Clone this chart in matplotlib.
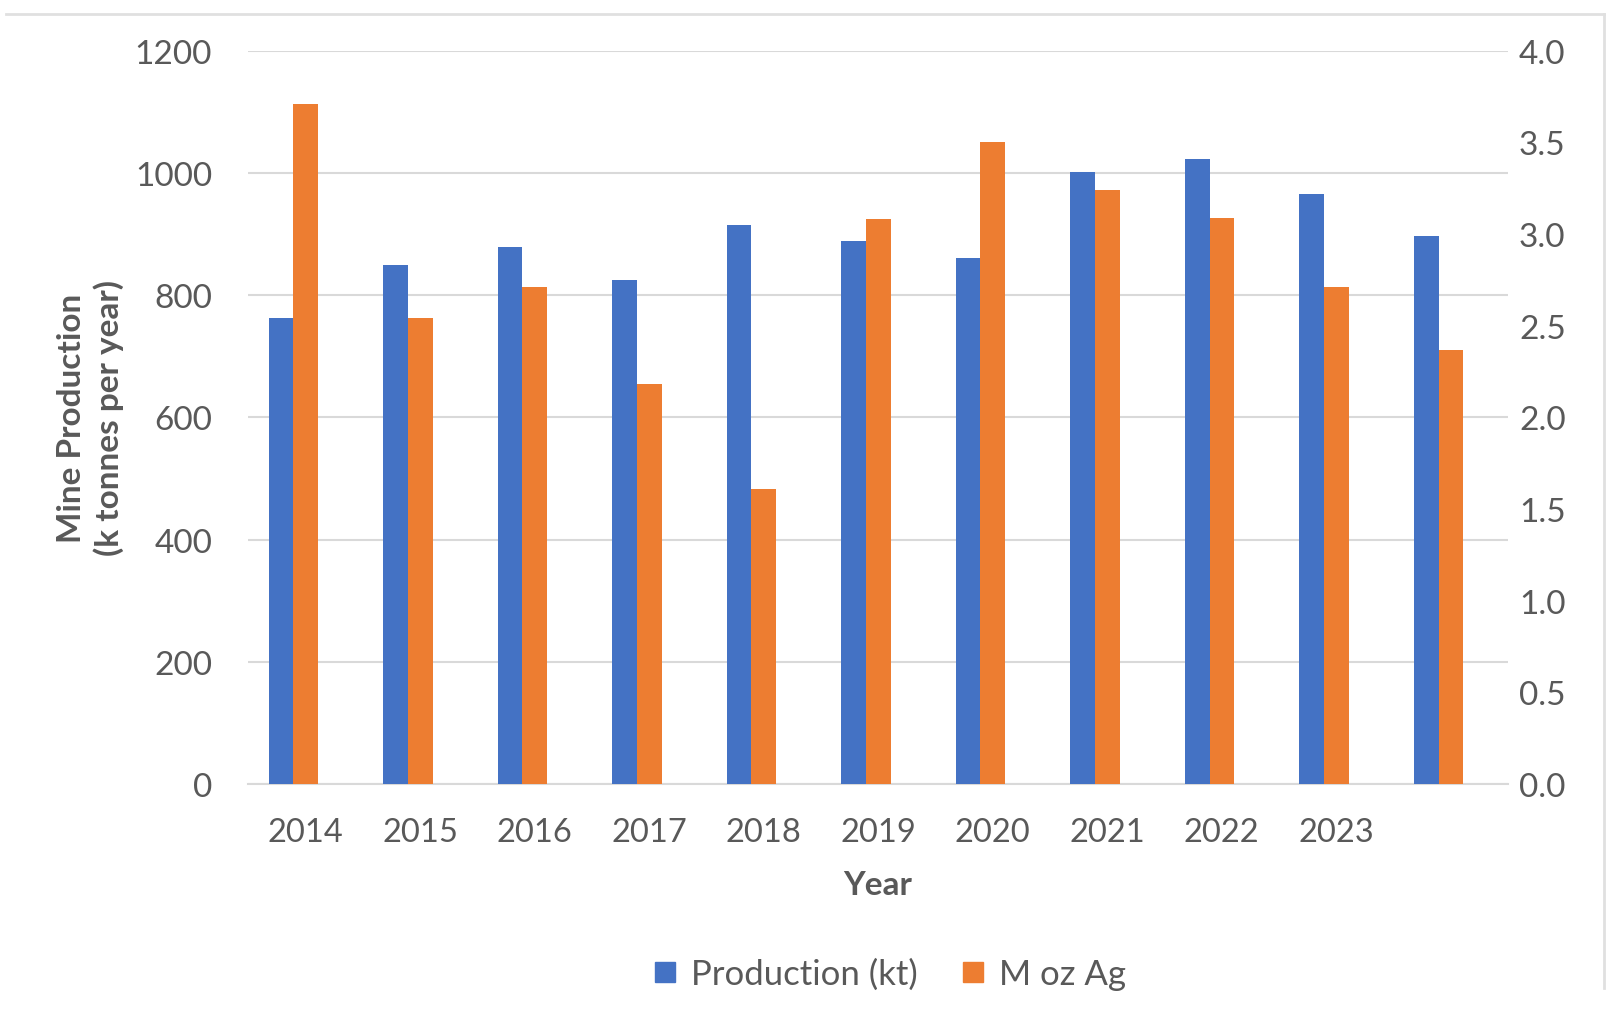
import numpy as np
import matplotlib.pyplot as plt
from matplotlib.lines import Line2D

# values
years = ['2014', '2015', '2016', '2017', '2018', '2019', '2020', '2021', '2022', '2023', '']
production_kt = [763, 849, 879, 825, 915, 889, 861, 1002, 1023, 966, 897]
moz_ag = [3.71, 2.54, 2.71, 2.18, 1.61, 3.08, 3.50, 3.24, 3.09, 2.71, 2.37]

blue = '#4472C4'
orange = '#ED7D31'
text_col = '#595959'

plt.rcParams['font.family'] = ['Lato', 'DejaVu Sans']

fig = plt.figure(figsize=(16.14, 10.2), dpi=100)
ax = fig.add_axes([0.1538, 0.2304, 0.7804, 0.7189])
ax2 = ax.twinx()

x = np.arange(len(years))
w = 0.216
shift = -0.105  # bar groups sit a little left of the tick labels
ax.bar(x + shift - w / 2, production_kt, w, color=blue, label='Production (kt)', zorder=3)
ax2.bar(x + shift + w / 2, moz_ag, w, color=orange, label='M oz Ag', zorder=3)

ax.set_xlim(-0.5, len(years) - 0.5)
ax.set_ylim(0, 1200)
ax.set_yticks(np.arange(0, 1201, 200))
ax2.set_ylim(0, 4.0)
ax2.set_yticks(np.arange(0, 4.01, 0.5))
ax2.set_yticklabels([f'{v:.1f}' for v in np.arange(0, 4.01, 0.5)])

ax.set_xticks(x)
ax.set_xticklabels(years)

ax.grid(axis='y', color='#d9d9d9', linewidth=1.5, zorder=0)
for a in (ax, ax2):
    for s in a.spines.values():
        s.set_visible(False)
    a.tick_params(length=0, labelsize=24, labelcolor=text_col)
ax.spines['bottom'].set_visible(True)
ax.spines['bottom'].set_color('#d9d9d9')
ax.spines['bottom'].set_linewidth(1.5)
ax.tick_params(axis='x', labelsize=23.5, pad=24)
ax.tick_params(axis='y', pad=26)
ax2.tick_params(axis='y', pad=8)

ax.set_xlabel('Year', fontsize=24, fontweight='bold', color=text_col, labelpad=16)
ax.set_ylabel('Mine Production\n(k tonnes per year)', fontsize=24, fontweight='bold',
              color=text_col, labelpad=8, linespacing=1.25)

handles = [Line2D([], [], marker='s', linestyle='', color=blue, markersize=14),
           Line2D([], [], marker='s', linestyle='', color=orange, markersize=14)]
fig.legend(handles, ['Production (kt)', 'M oz Ag'], loc='center', ncol=2,
           bbox_to_anchor=(0.544, 0.044), frameon=False, fontsize=25,
           labelcolor=text_col, handletextpad=-0.25, columnspacing=0.6)

# chart border (top and right edge)
fig.add_artist(Line2D([0.004, 0.994], [0.985, 0.985], color='#e0e0e0', linewidth=2))
fig.add_artist(Line2D([0.994, 0.994], [0.03, 0.985], color='#e0e0e0', linewidth=2))

fig.savefig('out.png', dpi=100)
